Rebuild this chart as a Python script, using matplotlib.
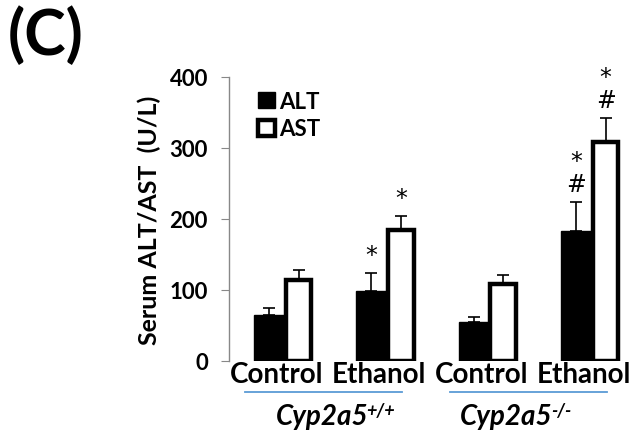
import numpy as np
import matplotlib.pyplot as plt
import matplotlib.transforms as mtransforms

plt.rcParams['font.family'] = ['Lato', 'DejaVu Sans']
plt.rcParams['font.weight'] = 'bold'

conditions = ['Control', 'Ethanol', 'Control', 'Ethanol']
genotypes = ['Cyp2a5', 'Cyp2a5']
genotype_sup = ['+/+', '-/-']
alt_mean = [64, 99, 55, 183]
alt_err = [10, 25, 7, 41]
ast_mean = [114, 185, 109, 308]
ast_err = [14, 19, 12, 34]
alt_marks = ['', '*', '', '*\n#']
ast_marks = ['', '*', '', '*\n#']

fig = plt.figure(figsize=(6.39, 4.35), dpi=100)
ax = fig.add_axes([0.358, 0.168, 0.632, 0.653])

x = np.arange(len(conditions))
w = 0.29
zero = [0] * len(x)
b1 = ax.bar(x - w / 2, alt_mean, w, color='black', edgecolor='black',
            linewidth=1, label='ALT', zorder=2)
b2 = ax.bar(x + w / 2, ast_mean, w - 0.04, color='white', edgecolor='black',
            linewidth=3.2, label='AST', zorder=2)
ax.errorbar(x - w / 2, alt_mean, yerr=[zero, alt_err], fmt='none',
            ecolor='black', elinewidth=1.2, capsize=4, capthick=1.2, zorder=1)
ax.errorbar(x + w / 2, ast_mean, yerr=[zero, ast_err], fmt='none',
            ecolor='black', elinewidth=1.2, capsize=4, capthick=1.2, zorder=1)

for i in range(len(x)):
    for xi, m, e, s in [(x[i] - w / 2, alt_mean[i], alt_err[i], alt_marks[i]),
                        (x[i] + w / 2, ast_mean[i], ast_err[i], ast_marks[i])]:
        if s:
            ax.annotate(s, (xi, m + e), xytext=(0, 4), textcoords='offset points',
                        ha='center', va='bottom', fontsize=17, fontweight='normal',
                        family='DejaVu Sans', linespacing=0.95)

ax.set_ylim(0, 400)
ax.set_xlim(-0.538, 3.41)
ax.set_yticks([0, 100, 200, 300, 400])
ax.set_xticks(x)
ax.set_xticklabels(conditions, fontsize=20, fontweight='bold')
ax.tick_params(axis='x', length=0, pad=0)
shift = mtransforms.ScaledTranslation(-7 / 100, 0, fig.dpi_scale_trans)
for lab in ax.get_xticklabels():
    lab.set_transform(lab.get_transform() + shift)
ax.tick_params(axis='y', length=6, color='#888888', labelsize=16, pad=9)
for lab in ax.get_yticklabels():
    lab.set_fontweight('bold')
for s in ['top', 'right', 'bottom']:
    ax.spines[s].set_visible(False)
ax.spines['left'].set_color('#888888')
ax.spines['left'].set_linewidth(1)
ax.set_ylabel('Serum ALT/AST  (U/L)', fontsize=18, fontweight='bold', labelpad=6)

leg = ax.legend(handles=[b1, b2], loc='upper left', bbox_to_anchor=(0.045, 0.99),
                frameon=False, fontsize=16, handlelength=0.75, handleheight=0.75,
                handletextpad=0.2, labelspacing=0.3, borderpad=0)

# genotype group lines and labels
trans = ax.get_xaxis_transform()
for g in range(2):
    a, b = x[2 * g], x[2 * g + 1]
    ax.plot([a - 0.38, b + 0.16], [-0.109, -0.109], transform=trans,
            color='#5b9bd5', lw=1.3, clip_on=False)
label_x = [0.83, 2.63]
for g in range(2):
    t = ax.text(label_x[g], -0.222, genotypes[g], transform=trans, ha='right',
                va='baseline', fontsize=20, fontweight='bold', style='italic')
    ax.annotate(genotype_sup[g], xy=(1, 1), xycoords=t, xytext=(-1.5, 1),
                textcoords='offset points', ha='left', va='top', fontsize=13,
                fontweight='bold', style='italic')

fig.text(0.012, 0.985, '(C)', fontsize=45, fontweight='bold', ha='left', va='top')

fig.savefig('out.png', dpi=100)
